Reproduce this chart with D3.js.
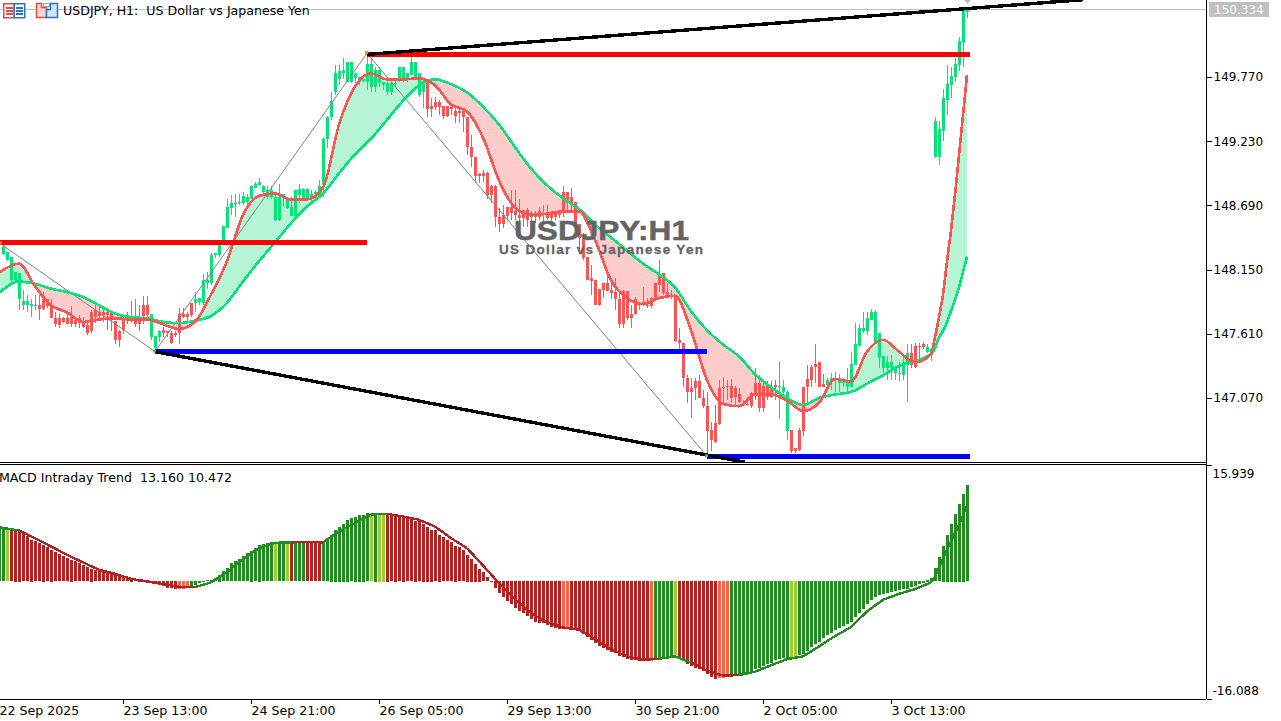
<!DOCTYPE html>
<html><head><meta charset="utf-8">
<script src="https://cdn.jsdelivr.net/npm/d3@7/dist/d3.min.js"></script>
<style>
html,body{margin:0;padding:0;background:#fff;overflow:hidden}
svg{display:block}
text{font-family:"DejaVu Sans",sans-serif;font-size:12.6px;fill:#000}
</style></head><body><svg id="c" width="1281" height="721"></svg>
<script>
// [open, high, low, close] per hourly bar
const bars22Sep=[[148.28,148.37,148.27,148.34],[148.23,148.30,148.22,148.30],[148.06,148.26,148.02,148.26],[148.06,148.13,148.04,148.13],[147.90,148.12,147.81,148.12],[147.85,147.98,147.81,147.89],[147.85,147.94,147.79,147.89],[147.84,147.90,147.75,147.86],[147.84,147.94,147.81,147.85],[147.85,147.94,147.73,147.82],[147.90,147.96,147.81,147.82],[147.90,147.90,147.83,147.84],[147.84,147.90,147.74,147.74],[147.74,147.79,147.67,147.69],[147.74,147.78,147.66,147.68],[147.74,147.75,147.70,147.71],[147.74,147.79,147.69,147.69],[147.75,147.84,147.67,147.69],[147.73,147.75,147.67,147.69],[147.74,147.77,147.66,147.70],[147.71,147.75,147.66,147.67],[147.68,147.70,147.60,147.62],[147.79,147.81,147.62,147.63],[147.81,147.87,147.70,147.75],[147.79,147.84,147.74,147.76],[147.79,147.83,147.71,147.77],[147.79,147.81,147.64,147.77],[147.79,147.79,147.63,147.73],[147.72,147.72,147.52,147.56],[147.63,147.64,147.50,147.56]];
const bars23Sep=[[147.73,147.75,147.61,147.64],[147.76,147.79,147.69,147.74],[147.75,147.89,147.71,147.74],[147.75,147.90,147.67,147.69],[147.74,147.85,147.63,147.69],[147.85,147.93,147.69,147.76],[147.85,147.93,147.75,147.77],[147.58,147.78,147.56,147.78],[147.49,147.59,147.48,147.59],[147.58,147.64,147.54,147.63],[147.64,147.67,147.58,147.62],[147.63,147.63,147.58,147.62],[147.62,147.63,147.52,147.53],[147.62,147.63,147.58,147.60],[147.78,147.83,147.52,147.62],[147.78,147.83,147.74,147.75],[147.78,147.79,147.71,147.75],[147.87,147.87,147.75,147.77],[147.87,147.96,147.79,147.90],[147.88,147.91,147.85,147.91],[147.87,148.11,147.85,148.06],[148.04,148.13,147.99,148.06],[148.04,148.29,148.02,148.27],[148.27,148.29,148.25,148.29],[148.27,148.40,148.26,148.36],[148.38,148.52,148.37,148.52],[148.50,148.74,148.50,148.68],[148.67,148.78,148.61,148.71],[148.70,148.79,148.59,148.71],[148.71,148.79,148.69,148.72],[148.71,148.80,148.69,148.77],[148.72,148.79,148.69,148.76]];
const bars24Sep=[[148.74,148.86,148.74,148.85],[148.84,148.89,148.84,148.87],[148.86,148.92,148.85,148.89],[148.80,148.86,148.78,148.85],[148.76,148.85,148.74,148.82],[148.76,148.85,148.74,148.82],[148.57,148.79,148.56,148.76],[148.57,148.87,148.56,148.76],[148.76,148.79,148.68,148.79],[148.67,148.76,148.66,148.75],[148.60,148.76,148.60,148.68],[148.60,148.82,148.60,148.82],[148.78,148.87,148.71,148.83],[148.74,148.84,148.74,148.83],[148.74,148.84,148.74,148.83],[148.75,148.82,148.72,148.79],[148.79,148.82,148.75,148.80],[148.76,148.90,148.75,148.85],[148.86,149.26,148.76,149.25],[149.25,149.44,149.17,149.43],[149.43,149.64,149.41,149.57],[149.64,149.87,149.62,149.80],[149.75,149.87,149.70,149.82],[149.80,149.93,149.75,149.83],[149.73,149.90,149.73,149.90],[149.73,149.90,149.72,149.90],[149.76,149.80,149.72,149.80],[149.73,149.77,149.70,149.77],[149.74,149.75,149.73,149.75],[149.73,149.94,149.66,149.88],[149.69,149.93,149.64,149.88],[149.69,149.85,149.64,149.83]];
const bars26Sep=[[149.72,149.85,149.69,149.83],[149.70,149.73,149.66,149.73],[149.64,149.75,149.62,149.72],[149.64,149.73,149.62,149.72],[149.71,149.75,149.69,149.72],[149.75,149.85,149.73,149.85],[149.75,149.85,149.73,149.85],[149.76,149.80,149.73,149.80],[149.79,149.94,149.79,149.90],[149.76,149.90,149.75,149.90],[149.62,149.80,149.60,149.80],[149.64,149.75,149.51,149.74],[149.74,149.74,149.43,149.50],[149.53,149.59,149.43,149.50],[149.56,149.60,149.49,149.52],[149.56,149.58,149.45,149.52],[149.53,149.53,149.42,149.44],[149.53,149.53,149.43,149.44],[149.52,149.53,149.45,149.50],[149.48,149.51,149.38,149.44],[149.48,149.53,149.38,149.47],[149.48,149.49,149.31,149.43],[149.43,149.43,149.11,149.18],[149.18,149.28,149.01,149.10],[149.10,149.10,148.88,148.94],[148.95,148.96,148.88,148.94],[148.96,148.99,148.89,148.94],[148.96,148.97,148.74,148.78],[148.85,148.86,148.71,148.78],[148.85,148.86,148.51,148.59],[148.59,148.67,148.47,148.53],[148.61,148.69,148.50,148.53]];
const bars29Sep=[[148.68,148.68,148.57,148.60],[148.68,148.82,148.57,148.63],[148.64,148.82,148.57,148.61],[148.61,148.74,148.53,148.58],[148.65,148.65,148.51,148.58],[148.65,148.67,148.51,148.57],[148.63,148.64,148.55,148.59],[148.61,148.64,148.54,148.59],[148.64,148.68,148.57,148.59],[148.63,148.69,148.55,148.61],[148.63,148.69,148.57,148.58],[148.63,148.64,148.54,148.58],[148.63,148.64,148.57,148.59],[148.63,148.65,148.58,148.61],[148.80,148.85,148.59,148.63],[148.80,148.80,148.63,148.71],[148.76,148.84,148.64,148.71],[148.72,148.72,148.46,148.51],[148.53,148.53,148.32,148.42],[148.42,148.46,148.23,148.25],[148.26,148.26,148.06,148.06],[148.08,148.19,147.94,148.05],[148.06,148.06,147.85,147.85],[147.99,147.99,147.84,147.85],[148.04,148.04,147.91,147.98],[148.04,148.11,147.97,147.97],[147.98,148.06,147.90,147.95],[147.96,148.08,147.81,147.90],[147.90,147.96,147.66,147.69],[147.97,147.98,147.66,147.69],[147.97,147.97,147.73,147.74],[147.78,147.85,147.66,147.74]];
const bars30Sep=[[147.90,147.92,147.77,147.78],[147.87,147.87,147.81,147.85],[147.88,148.00,147.84,147.86],[147.85,147.91,147.83,147.84],[147.91,147.92,147.83,147.84],[148.04,148.04,147.90,147.90],[148.10,148.23,147.96,148.02],[148.12,148.12,147.94,147.95],[147.96,148.04,147.91,147.92],[147.94,147.98,147.90,147.92],[147.92,147.94,147.54,147.55],[147.56,147.66,147.48,147.53],[147.53,147.53,147.16,147.24],[147.24,147.26,147.03,147.12],[147.15,147.24,146.90,147.12],[147.21,147.24,147.05,147.15],[147.21,147.26,147.07,147.07],[147.07,147.14,146.99,147.00],[147.00,147.12,146.61,146.79],[146.80,146.87,146.62,146.72],[146.86,147.01,146.69,146.70],[147.15,147.22,146.84,146.85],[147.16,147.25,147.01,147.15],[147.17,147.22,147.05,147.16],[147.17,147.23,147.03,147.07],[147.15,147.17,147.01,147.08],[147.10,147.15,147.03,147.04],[147.03,147.05,147.00,147.01],[147.02,147.08,147.00,147.01],[147.11,147.12,146.99,147.00],[147.20,147.32,147.05,147.10],[147.20,147.26,146.95,146.99]];
const bars2Oct=[[147.17,147.20,146.95,146.99],[147.17,147.21,147.05,147.08],[147.16,147.21,147.07,147.08],[147.18,147.22,147.05,147.16],[147.16,147.38,146.89,147.17],[147.12,147.22,147.05,147.16],[146.79,147.14,146.72,147.12],[146.80,146.80,146.61,146.62],[146.65,146.65,146.61,146.62],[146.80,146.82,146.62,146.63],[147.16,147.16,146.75,146.79],[147.23,147.35,147.03,147.16],[147.33,147.35,147.16,147.22],[147.36,147.52,147.20,147.33],[147.37,147.37,147.16,147.16],[147.19,147.27,147.16,147.16],[147.18,147.24,147.16,147.22],[147.21,147.28,147.14,147.24],[147.22,147.29,147.12,147.23],[147.20,147.27,147.12,147.23],[147.20,147.24,147.16,147.21],[147.16,147.32,147.12,147.21],[147.16,147.46,147.16,147.36],[147.35,147.70,147.35,147.52],[147.51,147.69,147.51,147.66],[147.63,147.79,147.62,147.66],[147.63,147.79,147.60,147.74],[147.73,147.82,147.73,147.79],[147.54,147.81,147.53,147.79],[147.41,147.62,147.32,147.62],[147.32,147.42,147.28,147.42],[147.32,147.42,147.22,147.37]];
const bars3Oct=[[147.32,147.43,147.22,147.37],[147.28,147.33,147.22,147.32],[147.27,147.37,147.21,147.28],[147.26,147.43,147.22,147.37],[147.35,147.52,147.04,147.45],[147.45,147.52,147.32,147.35],[147.51,147.53,147.32,147.33],[147.51,147.53,147.39,147.50],[147.52,147.54,147.48,147.50],[147.46,147.52,147.45,147.50],[147.43,147.48,147.38,147.48],[149.10,149.43,149.09,149.40],[149.10,149.40,149.03,149.33],[149.32,149.67,149.23,149.59],[149.58,149.87,149.45,149.71],[149.70,149.85,149.59,149.78],[149.77,149.93,149.73,149.88],[149.87,150.11,149.82,150.07],[150.06,150.33,149.85,150.33],[150.32,150.35,150.27,150.334]];
const fastMA=[148.13,148.20,148.01,147.85,147.79,147.71,147.73,147.74,147.73,147.73,147.69,147.65,147.71,147.94,148.22,148.61,148.77,148.79,148.74,148.74,148.84,149.37,149.69,149.80,149.75,149.75,149.76,149.70,149.54,149.48,149.26,148.90,148.67,148.61,148.62,148.64,148.64,148.40,148.06,147.91,147.86,147.91,147.93,147.64,147.22,147.02,147.00,147.10,147.10,147.05,146.96,147.03,147.23,147.21,147.46,147.56,147.46,147.37,147.44,147.58,147.75,147.94,148.22,148.48,148.78,149.11,149.45,149.79];
const slowMA=[147.96,148.05,148.03,147.99,147.96,147.92,147.85,147.78,147.75,147.74,147.71,147.70,147.72,147.76,147.87,148.05,148.22,148.38,148.54,148.68,148.79,148.96,149.12,149.25,149.41,149.57,149.70,149.75,149.71,149.64,149.52,149.37,149.18,149.00,148.86,148.75,148.66,148.53,148.42,148.31,148.20,148.11,148.00,147.80,147.64,147.52,147.42,147.27,147.16,147.07,147.01,147.07,147.10,147.12,147.19,147.26,147.34,147.38,147.44,147.49,147.58,147.63,147.71,147.80,147.90,148.00,148.13,148.26];
const macdHist=[7.30,7.30,7.30,7.20,6.93,6.61,6.16,5.70,5.47,5.24,5.02,4.65,4.33,4.01,3.74,3.47,3.19,2.96,2.74,2.46,2.19,1.92,1.73,1.55,1.37,1.28,1.14,1.00,.82,.68,.55,.46,.36,.27,.23,.18,-.09,-.18,-.36,-.55,-.73,-.91,-1.00,-1.05,-1.14,-1.09,-1.00,-.78,-.55,-.32,.02,.14,.23,.46,.91,1.37,1.82,2.51,2.74,3.06,3.42,3.88,4.20,4.56,5.02,5.11,5.24,5.34,5.38,5.38,5.38,5.34,5.24,5.38,5.38,5.47,5.38,5.38,5.38,5.38,
5.47,5.93,6.38,7.07,7.52,7.89,8.44,8.66,8.89,9.12,9.12,9.35,9.35,9.26,9.12,9.12,9.26,9.21,9.12,9.03,8.89,8.66,8.53,8.34,8.21,7.89,7.52,7.07,6.98,6.38,6.02,5.61,5.34,4.92,4.65,4.24,3.65,3.10,2.42,1.73,1.23,.55,-.12,-1.00,-1.60,-2.19,-2.74,-3.19,-3.69,-4.10,-4.42,-4.79,-5.24,-5.56,-5.70,-5.79,-6.06,-6.29,-6.43,-6.61,-6.61,-6.38,-6.38,-6.70,-6.89,-7.30,-7.66,-8.07,-8.44,-8.89,-9.17,-9.44,-9.71,-9.80,-10.26,-10.40,-10.62,-10.81,-10.85,-10.94,
-10.94,-10.94,-10.94,-10.72,-10.62,-10.62,-10.49,-10.26,-10.17,-10.49,-10.94,-11.40,-11.63,-11.86,-12.08,-12.31,-12.77,-13.13,-13.45,-13.32,-13.22,-13.00,-12.90,-12.90,-12.86,-12.77,-12.54,-12.40,-12.08,-11.86,-11.63,-11.40,-11.17,-10.85,-10.62,-10.49,-10.49,-10.49,-10.49,-10.12,-10.03,-9.58,-9.03,-8.66,-8.30,-7.75,-7.39,-7.07,-6.75,-6.48,-6.16,-5.93,-5.56,-4.92,-4.42,-3.88,-3.19,-2.64,-2.19,-1.96,-1.73,-1.60,-1.46,-1.37,-1.28,-1.14,-1.05,-.87,-.68,-.46,-.23,.23,.41,1.82,3.33,4.88,6.38,7.89,9.26,10.62,11.99,13.16];
const macdHistLead=7.30; // the bar cut by the left edge
const macdSignal=[7.39,6.98,5.93,4.79,3.65,2.60,1.60,1.05,.36,0,-.36,-.73,-.78,-.14,1.28,3.06,4.56,5.29,5.34,5.43,5.34,6.84,7.98,9.17,9.26,8.89,8.44,7.52,5.93,4.56,2.19,-.23,-2.42,-4.33,-5.61,-6.29,-6.61,-7.89,-9.26,-10.26,-10.72,-10.58,-10.26,-11.08,-12.22,-12.90,-12.81,-12.36,-11.49,-10.62,-10.26,-8.89,-7.48,-6.25,-4.10,-2.51,-1.69,-1.05,-.14,.68,1.92,3.06,4.33,5.47,6.61,7.75,8.98,10.472];
// histogram colour runs: [state, number of bars]
const histRuns=[["G",1],["Y",1],["R",42],["T",3],["G",21],["Y",1],["G",2],["Y",1],["R",1],["G",3],["R",4],["G",12],["Y",1],["G",1],["Y",2],["R",44],["T",2],["R",20],["T",1],["G",5],["Y",1],["R",10],["T",3],["G",15],["Y",2],["G",43]];
const priceTicks=[149.77,149.23,148.69,148.15,147.61,147.07];
const macdTicks=[15.939,-16.088];
const timeBars=[-1,30,62,94,126,158,190,222];
const timeLabels=["22 Sep 2025","23 Sep 13:00","24 Sep 21:00","26 Sep 05:00","29 Sep 13:00","30 Sep 21:00","2 Oct 05:00","3 Oct 13:00"];
const lastPrice=150.334;
// analysis objects: [bar, price] pairs
const zigzag=[[-0.75,148.37],[38,147.46],[91,149.97],[176,146.58]];
const redLevels=[[[-0.75,148.38],[91,148.38]],[[91,149.96],[241.75,149.96]]];
const blueLevels=[[[38,147.46],[176,147.46]],[[176,146.58],[241.75,146.58]]];
const trendLines=[[[38,147.46],[185.5,146.53]],[[91,149.96],[270,150.42]]];
const pivotMarks=[[-0.5,148.37,"#ff8c00"],[38,147.46,"#32cd32"],[91,149.97,"#ff8c00"],[176,146.58,"#32cd32"]];

const stateColor={G:"#228B22",Y:"#9ACD32",R:"#B22222",T:"#FF6347"};
const UP="#00E676",DOWN="#FF5252",FILLUP="#B5F5D6",FILLDOWN="#FFCCCC";
const ohlc=[].concat(bars22Sep,bars23Sep,bars24Sep,bars26Sep,bars29Sep,bars30Sep,bars2Oct,bars3Oct);
const histStates=histRuns.flatMap(([s,n])=>Array(n).fill(s));
const maBars=[-0.75].concat(d3.range(4,233,4),d3.range(233,242));

const svg=d3.select("#c");
const RIGHT=1206,PRICE_BOTTOM=462,MACD_TOP=465,MACD_BOTTOM=699;
const x=d3.scaleLinear().domain([0,241]).range([3,967]);
const y=d3.scaleLinear().domain([149.77,147.07]).range([77,398]);
const ym=d3.scaleLinear().domain([15.939,-16.088]).range([MACD_TOP,MACD_BOTTOM]);
const defs=svg.append("defs");
defs.append("clipPath").attr("id","pricePane").append("rect").attr("width",RIGHT).attr("height",PRICE_BOTTOM);
const maPts=maBars.map((b,i)=>({b,f:fastMA[i],s:slowMA[i]}));
const curve=d3.curveMonotoneX;
const slowToBottom=d3.area().curve(curve).x(d=>x(d.b)).y0(d=>y(d.s)).y1(PRICE_BOTTOM);
const slowToTop=d3.area().curve(curve).x(d=>x(d.b)).y0(d=>y(d.s)).y1(0);
defs.append("clipPath").attr("id","belowSlow").append("path").attr("d",slowToBottom(maPts));
defs.append("clipPath").attr("id","aboveSlow").append("path").attr("d",slowToTop(maPts));

// current price line
svg.append("line").attr("x1",0).attr("x2",RIGHT).attr("y1",y(lastPrice)).attr("y2",y(lastPrice)).attr("stroke","#C0C0C0").attr("shape-rendering","crispEdges");

const pane=svg.append("g").attr("clip-path","url(#pricePane)");
// cloud between the two averages
const between=d3.area().curve(curve).x(d=>x(d.b)).y0(d=>y(d.s)).y1(d=>y(d.f));
pane.append("path").attr("d",between(maPts)).attr("fill",FILLDOWN).attr("clip-path","url(#belowSlow)");
pane.append("path").attr("d",between(maPts)).attr("fill",FILLUP).attr("clip-path","url(#aboveSlow)");
// candles
const cg=pane.append("g").attr("shape-rendering","crispEdges");
const col=d=>d[3]>=d[0]?UP:DOWN;
cg.selectAll(".w").data(ohlc).join("rect").attr("class","w")
  .attr("x",(d,i)=>x(i)).attr("width",1)
  .attr("y",d=>Math.round(y(d[1]))).attr("height",d=>Math.max(1,Math.round(y(d[2]))-Math.round(y(d[1]))))
  .attr("fill",col);
cg.selectAll(".b").data(ohlc).join("rect").attr("class","b")
  .attr("x",(d,i)=>x(i)-1).attr("width",3)
  .attr("y",d=>Math.round(y(Math.max(d[0],d[3])))).attr("height",d=>Math.max(1,Math.round(y(Math.min(d[0],d[3])))-Math.round(y(Math.max(d[0],d[3])))))
  .attr("fill",col);
// zigzag
const seg=d3.line().x(d=>x(d[0])).y(d=>y(d[1]));
pane.append("path").attr("d",seg(zigzag)).attr("fill","none").attr("stroke","#808080").attr("stroke-width",1);
// watermark
svg.append("text").text("USDJPY:H1").attr("x",514).attr("y",240).attr("textLength",175).attr("lengthAdjust","spacingAndGlyphs")
  .style("font-family","'Liberation Sans',Arial,sans-serif").style("font-size","27px").style("font-weight","bold").style("fill","#646464").style("stroke","#646464").style("stroke-width","0.5px");
svg.append("text").text("US Dollar vs Japanese Yen").attr("x",499).attr("y",253.5).attr("textLength",204).attr("lengthAdjust","spacing")
  .style("font-family","'Liberation Sans',Arial,sans-serif").style("font-size","13.5px").style("font-weight","bold").style("fill","#646464").style("stroke","#646464").style("stroke-width","0.3px");
// averages
const maLine=k=>d3.line().curve(curve).x(d=>x(d.b)).y(d=>y(d[k]));
pane.append("path").attr("d",maLine("s")(maPts)).attr("fill","none").attr("stroke",UP).attr("stroke-width",2.6).attr("shape-rendering","crispEdges");
pane.append("path").attr("d",maLine("f")(maPts)).attr("fill","none").attr("stroke",DOWN).attr("stroke-width",2.6).attr("shape-rendering","crispEdges");
// levels and trend lines
const lg=pane.append("g").attr("fill","none").attr("shape-rendering","crispEdges");
lg.selectAll(".r").data(redLevels).join("path").attr("class","r").attr("d",seg).attr("stroke","#FF0000").attr("stroke-width",5);
lg.selectAll(".bl").data(blueLevels).join("path").attr("class","bl").attr("d",seg).attr("stroke","#0000FF").attr("stroke-width",5);
lg.selectAll(".t").data(trendLines).join("path").attr("class","t").attr("d",seg).attr("stroke","#000").attr("stroke-width",3.4);
pane.selectAll(".pm").data(pivotMarks).join("rect").attr("class","pm")
  .attr("x",d=>x(d[0])-2).attr("y",d=>y(d[1])-2).attr("width",3).attr("height",3).attr("fill",d=>d[2]);
svg.append("path").attr("d","M964 0h7l-3.5 3.5z").attr("fill","#B8B8B8");

// MACD pane
const hg=svg.append("g").attr("shape-rendering","crispEdges");
const histBars=[{b:-1,v:macdHistLead,s:"G"}].concat(macdHist.map((v,i)=>({b:i,v,s:histStates[i]})));
hg.selectAll("rect").data(histBars).join("rect")
  .attr("x",d=>x(d.b)-1).attr("width",3)
  .attr("y",d=>Math.round(d.v>=0?ym(d.v):ym(0))).attr("height",d=>Math.max(1,Math.round(Math.abs(ym(d.v)-ym(0)))))
  .attr("fill",d=>stateColor[d.s]);
const sigPts=maBars.map((b,i)=>[b,macdSignal[i]]);
const sigLine=d3.line().x(d=>x(d[0])).y(d=>ym(d[1]));
svg.append("g").attr("fill","none").attr("stroke-width",2.4).attr("shape-rendering","crispEdges")
  .selectAll("path").data(d3.pairs(sigPts)).join("path").attr("d",sigLine)
  .attr("stroke",d=>{const s=histStates[Math.max(0,Math.ceil(d[0][0]))];return (s==="G"||s==="Y")?"#228B22":"#B22222";});

// frame
const frame=svg.append("g").attr("stroke","#000").attr("shape-rendering","crispEdges");
frame.append("line").attr("x1",0).attr("x2",RIGHT).attr("y1",462.5).attr("y2",462.5);
frame.append("line").attr("x1",0).attr("x2",RIGHT).attr("y1",464.5).attr("y2",464.5);

// axes
const tick=v=>d3.format(".3f")(v).replace("\u2212","-");
const axP=svg.append("g").attr("transform",`translate(${RIGHT}.5,0)`).call(d3.axisRight(y).tickValues(priceTicks).tickFormat(tick).tickSize(5).tickPadding(2));
const axM=svg.append("g").attr("transform",`translate(${RIGHT}.5,0)`).call(d3.axisRight(ym).tickValues(macdTicks).tickFormat(tick).tickSize(5).tickPadding(2));
axM.selectAll(".tick text").attr("dy",d=>d>0?"1.0em":"-0.35em");
const axT=svg.append("g").attr("transform",`translate(0,${MACD_BOTTOM}.5)`).call(d3.axisBottom(x).tickValues(timeBars).tickFormat((d,i)=>timeLabels[i]).tickSize(4).tickPadding(3));
axT.selectAll(".tick text").attr("text-anchor","start");
[axP,axM,axT].forEach(a=>{a.attr("font-family",null).attr("font-size",null);a.selectAll("path.domain").remove();a.selectAll("line").attr("stroke","#000").attr("shape-rendering","crispEdges");});
axP.selectAll("text").attr("x",7).style("font-size","12px");axM.selectAll("text").attr("x",6).style("font-size","12px");
frame.append("line").attr("x1",RIGHT+.5).attr("x2",RIGHT+.5).attr("y1",0).attr("y2",MACD_BOTTOM);
frame.append("line").attr("x1",0).attr("x2",RIGHT).attr("y1",MACD_BOTTOM+.5).attr("y2",MACD_BOTTOM+.5);

// last price tag
svg.append("rect").attr("x",1209).attr("y",y(lastPrice)-8).attr("width",60).attr("height",15).attr("fill","#C0C0C0");
svg.append("text").text(tick(lastPrice)).attr("x",1214).attr("y",y(lastPrice)+4).style("fill","#fff").style("font-size","12px");

// titles
svg.append("text").text("USDJPY, H1:  US Dollar vs Japanese Yen").attr("x",63).attr("y",15).style("white-space","pre");
svg.append("text").text("MACD Intraday Trend  13.160 10.472").attr("x",-1).attr("y",482).style("white-space","pre");

// toolbar icons
const ic=svg.append("g");
ic.append("rect").attr("x",3.75).attr("y",3.75).attr("width",10.5).attr("height",14).attr("fill","#fff").attr("stroke","#E04B4B").attr("stroke-width",1.5);
ic.append("rect").attr("x",14.25).attr("y",3.75).attr("width",10.5).attr("height",14).attr("fill","#fff").attr("stroke","#2E75B6").attr("stroke-width",1.5);
[7,10,13].forEach(v=>{ic.append("rect").attr("x",6).attr("y",v).attr("width",7).attr("height",2).attr("fill","#E04B4B");ic.append("rect").attr("x",16).attr("y",v).attr("width",7).attr("height",2).attr("fill","#2E75B6");});
ic.append("path").attr("d","M36.5 3.5h5v4h5v10h-10z").attr("fill","#FBD5D0").attr("stroke","#E04B4B").attr("stroke-width",1.5);
ic.append("path").attr("d","M50.5 3.5h7v14h-11v-8h4z").attr("fill","#CFE6F7").attr("stroke","#2E75B6").attr("stroke-width",1.5);
ic.append("rect").attr("x",43.5).attr("y",3.5).attr("width",6).attr("height",3).attr("fill","#fff").attr("stroke","#9a9a9a");
</script></body></html>
